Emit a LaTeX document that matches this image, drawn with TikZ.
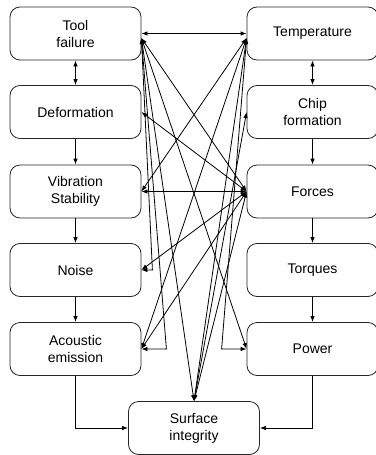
\documentclass[tikz,border=0pt]{standalone}
\usepackage{fontspec}
\setmainfont{Liberation Sans}
\usetikzlibrary{arrows.meta}
\tikzset{every path/.style={line width=0.8pt}, >={Latex[length=6pt,width=4.5pt]},
  box/.style={draw=black!85, rounded corners=10pt, minimum width=131pt, minimum height=53pt, align=center, font=\fontsize{14}{17}\selectfont}}

\begin{document}
\begin{tikzpicture}[x=1pt,y=-1pt]
  \useasboundingbox (0,0) rectangle (375,455);
  \node[box] (tf) at ( 75.5, 33.5) {Tool\\failure};
  \node[box] (de) at ( 75.5,112  ) {Deformation};
  \node[box] (vs) at ( 75.5,191.5) {Vibration\\Stability};
  \node[box] (no) at ( 75.5,270  ) {Noise};
  \node[box] (ae) at ( 75.5,349  ) {Acoustic\\emission};
  \node[box] (te) at (312.5, 33.5) {Temperature};
  \node[box] (cf) at (312.5,112  ) {Chip\\formation};
  \node[box] (fo) at (312.5,191.5) {Forces};
  \node[box] (tq) at (312.5,270  ) {Torques};
  \node[box] (pw) at (312.5,349  ) {Power};
  \node[box] (si) at (194  ,428  ) {Surface\\integrity};
  \coordinate (tfh) at ([yshift=-4.5pt]tf.east);
  \coordinate (teh) at ([yshift=-4.5pt]te.west);
  \draw[<->] (tf) -- (de);
  \draw[->] (de) -- (vs);
  \draw[->] (vs) -- (no);
  \draw[->] (no) -- (ae);
  \draw[->] (ae) |- (si);
  \draw[<->] (te) -- (cf);
  \draw[->] (cf) -- (fo);
  \draw[->] (fo) -- (tq);
  \draw[->] (tq) -- (pw);
  \draw[->] (pw) |- (si);
  \draw[<->] (tf.east) -- (te.west);
  \draw[<->] (vs.east) -- (fo.west);
  \draw[<->] (tfh) -- ([xshift=11pt]no.east) -- (no.east);
  \draw[<->] (tfh) -- ([xshift=25pt]ae.east) -- (ae.east);
  \draw[<->] (tfh) -- (si.north);
  \draw[<->] (tfh) -- (pw.west);
  \draw[<->] (tfh) -- (fo.west);
  \draw[<->] (teh) -- ([xshift=-25pt]pw.west) -- (pw.west);
  \draw[<->] (teh) -- (vs.east);
  \draw[<->] (teh) -- (ae.east);
  \draw[<->] (teh) -- (si.north);
  \draw[<->] (fo.west) -- (de.east);
  \draw[<->] (fo.west) -- (no.east);
  \draw[<->] (fo.west) -- (ae.east);
  \draw[<->] (fo.west) -- (si.north);
  \draw[<->] (cf.west) -- (si.north);
\end{tikzpicture}
\end{document}
